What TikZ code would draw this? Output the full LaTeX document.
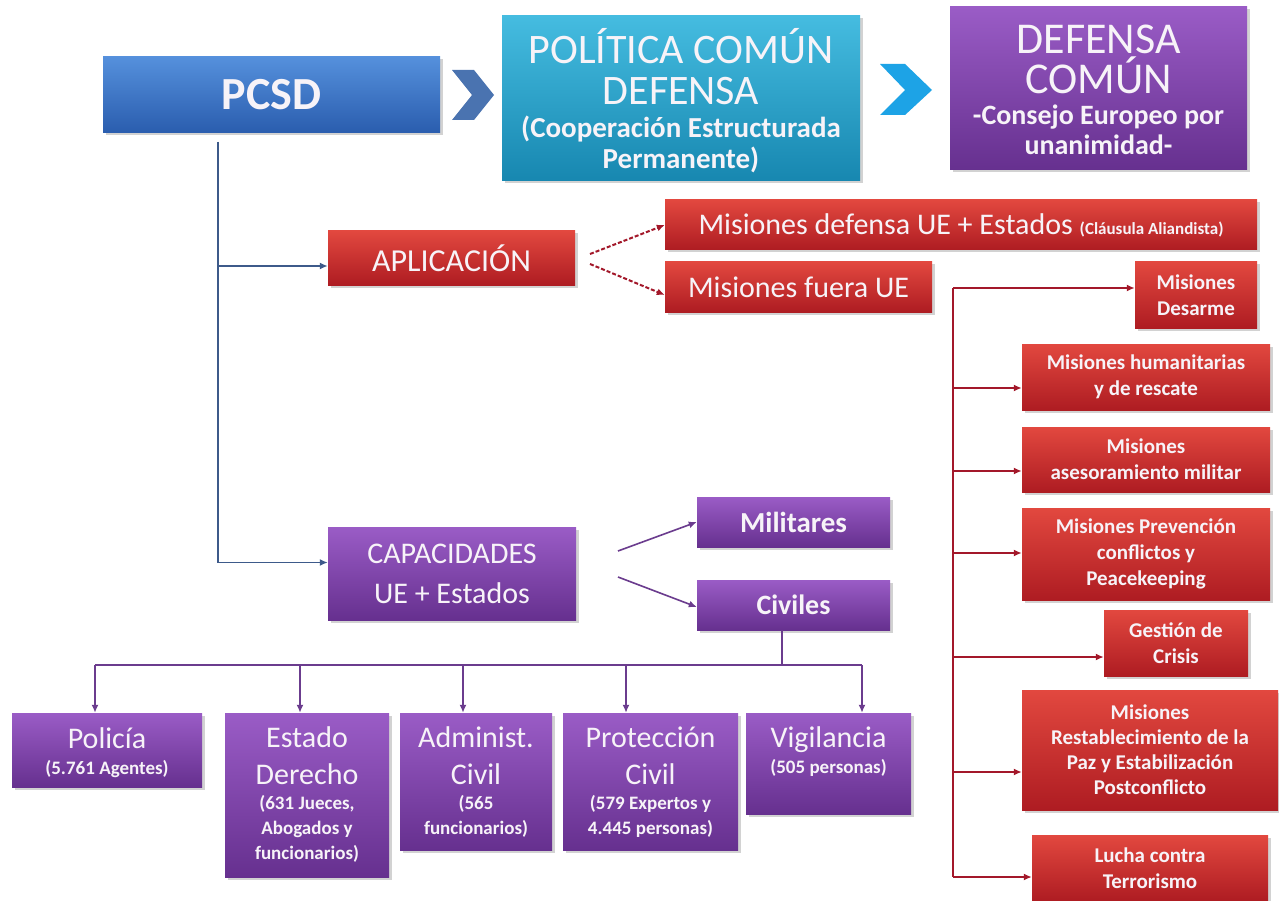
\documentclass[tikz,border=0pt]{standalone}
\usepackage{fontspec}
\setmainfont{Carlito}
\usetikzlibrary{arrows.meta,shadows,calc}
\newcommand\fsz[2]{\fontsize{#1}{#2}\selectfont}
\definecolor{bluetop}{HTML}{5590DC}
\definecolor{bluebot}{HTML}{2A5DAE}
\definecolor{tealtop}{HTML}{45BCE0}
\definecolor{tealbot}{HTML}{1787B0}
\definecolor{purtop}{HTML}{9A5CC6}
\definecolor{purbot}{HTML}{66308F}
\definecolor{redtop}{HTML}{E2483F}
\definecolor{redbot}{HTML}{AE1C22}
\definecolor{chevA}{HTML}{4A73B0}
\definecolor{chevB}{HTML}{1DA3E6}
\definecolor{lineblue}{HTML}{3D5A8A}
\definecolor{linepur}{HTML}{6B3C8E}
\definecolor{linered}{HTML}{A3182A}
\definecolor{txt}{HTML}{F7F3F8}
\begin{document}
\begin{tikzpicture}[x=1pt,y=-1pt,
  box/.style={inner sep=0pt, align=center, text=txt,
    drop shadow={shadow xshift=2.5pt,shadow yshift=-2.5pt,opacity=0.35}},
  bluebox/.style={box, top color=bluetop, bottom color=bluebot},
  tealbox/.style={box, top color=tealtop, bottom color=tealbot},
  purbox/.style={box, top color=purtop, bottom color=purbot},
  redbox/.style={box, top color=redtop, bottom color=redbot},
  wh/.style 2 args={minimum width=#1pt, minimum height=#2pt},
  arr/.style={-{Latex[length=8pt,width=7pt]}, line width=1.6pt},
  bluearr/.style={arr, draw=lineblue},
  purarr/.style={arr, draw=linepur},
  redarr/.style={arr, draw=linered},
  redfine/.style={redarr, dash pattern=on 4pt off 2pt, line width=2pt},
  small/.style={font=\fsz{21}{26}\bfseries}
]
\fill[white] (0,0) rectangle (1279,901);
\useasboundingbox (0,0) rectangle (1279,901);

% top row
\node[bluebox, wh={337}{76}, font=\fsz{46}{50}\bfseries] (PCSD) at (271.5,95) {PCSD};
\fill[chevA] (452,70) -- (474,70) -- (494,95) -- (474,120) -- (452,120) -- (472,95) -- cycle;
\node[tealbox, wh={358}{165}] (PCD) at (681,98.5)
  {\parbox[c][165pt][c]{358pt}{\centering\vspace*{4pt}\fsz{42}{41}POLÍTICA COMÚN\\DEFENSA\\[2pt]\fsz{29}{31}\bfseries(Cooperación Estructurada\\Permanente)}};
\fill[chevB] (880,64) -- (905,64) -- (932,90) -- (905,115) -- (880,115) -- (905,90) -- cycle;
\node[purbox, wh={297}{163}] (DC) at (1098.5,88.5)
  {\parbox[c][163pt][c]{297pt}{\centering\vspace*{3pt}\fsz{44}{40}DEFENSA\\COMÚN\\[1pt]\fsz{28}{30}\bfseries -Consejo Europeo por\\unanimidad-}};

% aplicacion
\node[redbox, wh={247}{54}, font=\fsz{32}{34}] (APL) at (451.5,258) {APLICACIÓN};
\node[redbox, wh={592}{50}] (MDEF) at (961,225)
  {\fsz{30}{30}Misiones defensa UE + Estados {\fsz{17}{18}\bfseries(Cláusula Aliandista)}};
\node[redbox, wh={267}{50}, font=\fsz{30}{30}] (MFUE) at (798.5,287) {Misiones fuera UE};

% capacidades
\node[purbox, wh={248}{93}, font=\fsz{30}{40}] (CAP) at (452,573.5) {CAPACIDADES\\UE + Estados};
\node[purbox, wh={193}{50}, font=\fsz{29}{30}\bfseries] (MIL) at (793.5,522) {Militares};
\node[purbox, wh={193}{50}, font=\fsz{28}{30}\bfseries] (CIV) at (793.5,605) {Civiles};

% bottom civil boxes
\node[purbox, wh={190}{74}] (POL) at (107,750)
  {\parbox[c][74pt][t]{190pt}{\centering\vspace*{15pt}\fsz{30}{36}Policía\\\fsz{19}{26}\bfseries(5.761 Agentes)}};
\node[purbox, wh={164}{164}] (EST) at (307,795)
  {\parbox[c][164pt][t]{164pt}{\centering\vspace*{14pt}\fsz{30}{37}Estado\\Derecho\\\fsz{19}{25}\bfseries(631 Jueces,\\Abogados y\\funcionarios)}};
\node[purbox, wh={152}{137}] (ADM) at (476,781.5)
  {\parbox[c][137pt][t]{152pt}{\centering\vspace*{14pt}\fsz{30}{37}Administ.\\Civil\\\fsz{19}{25}\bfseries(565\\funcionarios)}};
\node[purbox, wh={175}{137}] (PRO) at (650.5,781.5)
  {\parbox[c][137pt][t]{175pt}{\centering\vspace*{14pt}\fsz{30}{37}Protección\\Civil\\\fsz{19}{25}\bfseries(579 Expertos y\\4.445 personas)}};
\node[purbox, wh={165}{101}] (VIG) at (828.5,763.5)
  {\parbox[c][101pt][t]{165pt}{\centering\vspace*{14pt}\fsz{30}{36}Vigilancia\\\fsz{19}{26}\bfseries(505 personas)}};

% right red boxes
\node[redbox, wh={122}{66}, small] (DES) at (1196,295) {Misiones\\Desarme};
\node[redbox, wh={248}{66}, small] (HUM) at (1146,377) {Misiones humanitarias\\y de rescate};
\node[redbox, wh={248}{65}, small] (ASE) at (1146,459.5) {Misiones\\asesoramiento militar};
\node[redbox, wh={248}{92}, small] (PRE) at (1146,554) {Misiones Prevención\\conflictos y\\Peacekeeping};
\node[redbox, wh={144}{66}, small] (GES) at (1176,643) {Gestión de\\Crisis};
\node[redbox, wh={256}{120}, font=\fsz{21}{25}\bfseries] (RES) at (1150,750) {Misiones\\Restablecimiento de la\\Paz y Estabilización\\Postconflicto};
\node[redbox, wh={236}{66}, small] (LUC) at (1150,868) {Lucha contra\\Terrorismo};

% PCSD trunk
\coordinate (t0) at (218,142);
\draw[bluearr] (t0) |- ($(APL.west)+(0,8)$);
\draw[bluearr] (t0) |- ($(CAP.west)+(0,-11)$);

% aplicacion arrows
\coordinate (a1) at (590,254);
\coordinate (a2) at (590,264);
\draw[redfine] (a1) -- (MDEF.west);
\draw[redfine] (a2) -- ($(MFUE.west)+(0,8)$);

% capacidades arrows
\coordinate (c1) at (618,551);
\coordinate (c2) at (618,577);
\draw[purarr] (c1) -- (MIL.west);
\draw[purarr] (c2) -- ($(CIV.west)+(0,2)$);

% civiles bus
\coordinate (cb) at (782,665);
\coordinate (b1) at (95,665);
\coordinate (b2) at (300,665);
\coordinate (b3) at (463,665);
\coordinate (b4) at (626,665);
\coordinate (b5) at (862,665);
\draw[linepur, line width=1.6pt] (cb |- CIV.south) -- (cb);
\draw[linepur, line width=1.6pt] (b1) -- (b5);
\draw[purarr] (b1) -- (b1 |- POL.north);
\draw[purarr] (b2) -- (b2 |- EST.north);
\draw[purarr] (b3) -- (b3 |- ADM.north);
\draw[purarr] (b4) -- (b4 |- PRO.north);
\draw[purarr] (b5) -- (b5 |- VIG.north);

% right trunk
\coordinate (r0) at (953,288);
\coordinate (r1) at (953,877);
\draw[linered, line width=1.8pt] (r0) -- (r1);
\draw[redarr] (r0) -- (r0 -| DES.west);
\draw[redarr] (953,388) -- (HUM.west |- 953,388);
\draw[redarr] (953,471) -- (ASE.west |- 953,471);
\draw[redarr] (953,553) -- (PRE.west |- 953,553);
\draw[redarr] (953,657) -- (GES.west |- 953,657);
\draw[redarr] (953,772) -- (RES.west |- 953,772);
\draw[redarr] (r1) -- (LUC.west |- r1);
\end{tikzpicture}
\end{document}
